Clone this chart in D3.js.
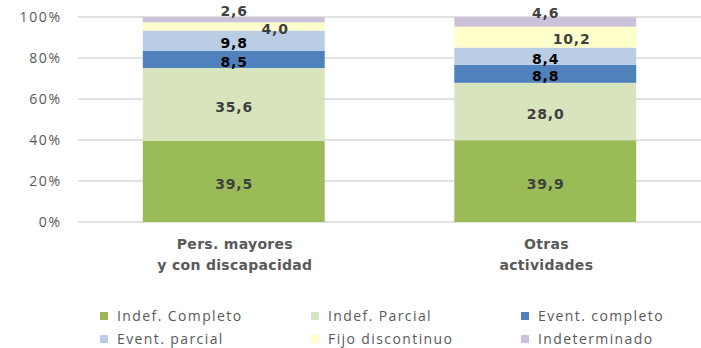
<!DOCTYPE html>
<html>
<head>
<meta charset="utf-8">
<script src="https://cdn.jsdelivr.net/npm/d3@7"></script>
<style>
  html, body { margin: 0; padding: 0; background: #fff; }
  svg { display: block; font-family: "Open Sans", "DejaVu Sans", sans-serif; }
</style>
</head>
<body>
<svg id="chart" width="701" height="348"></svg>
<script>
// Contract type shares (%) by activity group
const categories = [["Pers. mayores", "y con discapacidad"], ["Otras", "actividades"]];
const seriesNames = ["Indef. Completo", "Indef. Parcial", "Event. completo", "Event. parcial", "Fijo discontinuo", "Indeterminado"];
const indefCompleto   = [39.5, 39.9];
const indefParcial    = [35.6, 28.0];
const eventCompleto   = [8.5, 8.8];
const eventParcial    = [9.8, 8.4];
const fijoDiscontinuo = [4.0, 10.2];
const indeterminado   = [2.6, 4.6];
const yTicks = [0, 20, 40, 60, 80, 100];

const seriesValues = [indefCompleto, indefParcial, eventCompleto, eventParcial, fijoDiscontinuo, indeterminado];
const colors = ["#9BBB59", "#D7E4BD", "#4F81BD", "#B9CDE5", "#FFFFCC", "#CCC1DA"];
const labelColors = ["#404040", "#404040", "#000000", "#000000", "#404040", "#404040"];

const svg = d3.select("#chart");
const plot = { left: 78, right: 701, top: 17, bottom: 222 };

const x = d3.scaleBand().domain(d3.range(categories.length)).range([plot.left, plot.right]).padding(0);
const barW = x.bandwidth() * 0.584;
const y = d3.scaleLinear().domain([0, 100]).range([plot.bottom, plot.top]);

// gridlines
svg.append("g").selectAll("line").data(yTicks).join("line")
  .attr("x1", plot.left).attr("x2", plot.right)
  .attr("y1", d => y(d)).attr("y2", d => y(d))
  .attr("stroke", "#d9d9d9").attr("stroke-width", 1.5);

// y axis labels
const tickSpacing = 1.6;
const yAxis = d3.axisLeft(y).tickValues(yTicks).tickFormat(d => d + "%").tickSize(0).tickPadding(0);
const gy = svg.append("g").attr("transform", `translate(${60 + tickSpacing},0)`).call(yAxis);
gy.select(".domain").remove();
gy.selectAll("text").attr("fill", "#595959").style("font-size", "14px")
  .style("letter-spacing", tickSpacing + "px")
  .style("font-family", '"Open Sans", sans-serif').attr("dy", "0.35em");

// stacked data
const table = categories.map((c, i) => {
  const row = { i };
  seriesNames.forEach((s, k) => row[s] = seriesValues[k][i]);
  return row;
});
const stacked = d3.stack().keys(seriesNames)(table);

const gBars = svg.append("g");
stacked.forEach((layer, k) => {
  gBars.append("g").attr("fill", colors[k]).selectAll("rect").data(layer).join("rect")
    .attr("x", d => x(d.data.i) + (x.bandwidth() - barW) / 2)
    .attr("width", barW)
    .attr("y", d => y(d[1]))
    .attr("height", d => y(d[0]) - y(d[1]));
});

// value labels; small top segments get their labels nudged clear of the bar
const nudge = {
  "4,0": [41, 0], "10,2": [26, 0], "2,6": [0, -11], "4,6": [0, -11]
};
const valSpacing = 0.8;
const gLab = svg.append("g").style("font-weight", "bold").style("font-size", "14px")
  .style("letter-spacing", valSpacing + "px")
  .style("font-family", '"DejaVu Sans", sans-serif').attr("text-anchor", "middle");
stacked.forEach((layer, k) => {
  layer.forEach(d => {
    const txt = d3.format(".1f")(d[1] - d[0]).replace(".", ",");
    const n = nudge[txt] || [0, 0];
    gLab.append("text")
      .attr("x", x(d.data.i) + x.bandwidth() / 2 + n[0] + valSpacing / 2)
      .attr("y", y((d[0] + d[1]) / 2) + 2.5 + n[1])
      .attr("dy", "0.35em")
      .attr("fill", labelColors[k])
      .text(txt);
  });
});

// category labels
const catSpacing = 0.3;
const gCat = svg.append("g").attr("text-anchor", "middle").style("font-weight", "bold")
  .style("font-size", "14px").style("letter-spacing", catSpacing + "px")
  .style("font-family", '"DejaVu Sans", sans-serif').attr("fill", "#595959");
categories.forEach((lines, i) => {
  lines.forEach((t, j) => {
    gCat.append("text").attr("x", x(i) + x.bandwidth() / 2 + 1 + catSpacing / 2).attr("y", 244 + j * 21)
      .attr("dy", "0.35em").text(t);
  });
});

// legend
const legCols = [100, 311, 521];
const legRows = [316, 339];
const gLeg = svg.append("g").style("font-size", "14px").style("font-family", '"Open Sans", sans-serif');
seriesNames.forEach((s, k) => {
  const cx = legCols[k % 3], cy = legRows[Math.floor(k / 3)];
  gLeg.append("rect").attr("x", cx).attr("y", cy - 4).attr("width", 8).attr("height", 8).attr("fill", colors[k]);
  gLeg.append("text").attr("x", cx + 17).attr("y", cy).attr("dy", "0.35em")
    .attr("fill", "#595959").style("letter-spacing", "1.4px").text(s);
});
</script>
</body>
</html>
